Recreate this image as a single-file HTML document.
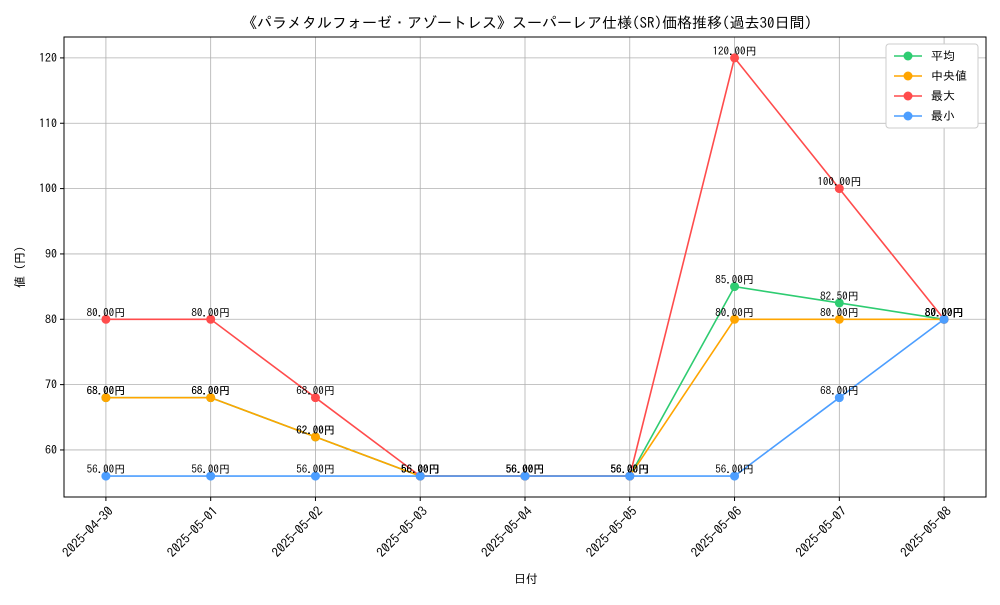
<!DOCTYPE html>
<html><head><meta charset="utf-8"><style>
body{margin:0;background:#fff;}
svg text{font-family:"IPAGothic","Liberation Sans","Noto Sans CJK JP",sans-serif;fill:#000;}
</style></head><body>
<svg id="chart" width="1000" height="600" xmlns="http://www.w3.org/2000/svg">
<text x="527" y="28" font-size="15" text-anchor="middle">《パラメタルフォーゼ・アゾートレス》スーパーレア仕様(SR)価格推移(過去30日間)</text>
<g id="grid"></g><g id="axes"></g><g id="series"></g><g id="labels"></g>
<text x="526" y="583" font-size="12" text-anchor="middle">日付</text>
<text transform="translate(24,267) rotate(-90)" font-size="12" text-anchor="middle">値 (円)</text>
<g id="legend"></g>
</svg>
<script>
const categories=["2025-04-30","2025-05-01","2025-05-02","2025-05-03","2025-05-04","2025-05-05","2025-05-06","2025-05-07","2025-05-08"];
const avgValues=[68,68,62,56,56,56,85,82.5,80];
const medianValues=[68,68,62,56,56,56,80,80,80];
const maxValues=[80,80,68,56,56,56,120,100,80];
const minValues=[56,56,56,56,56,56,56,68,80];
const yTicks=[60,70,80,90,100,110,120];
const seriesNames=["平均","中央値","最大","最小"];
const NS="http://www.w3.org/2000/svg";
const L=64,R=986,T=37,B=497,yMin=52.8,yMax=123.2;
const X=i=>L+(i+0.4)/(categories.length-1+0.8)*(R-L);
const Y=v=>B-(v-yMin)/(yMax-yMin)*(B-T);
function mk(p,t,a){const e=document.createElementNS(NS,t);for(const k in a)e.setAttribute(k,a[k]);document.getElementById(p).appendChild(e);return e;}
categories.forEach((c,i)=>{
 const g=mk("grid","line",{x1:X(i),x2:X(i),y1:T,y2:B,stroke:"#b0b0b0","stroke-width":0.8});
 
 
 const t=mk("axes","text",{transform:`translate(${X(i)+8},${B+15}) rotate(-45)`,"font-size":13,"text-anchor":"end"});
 t.textContent=c;
 
 
 mk("axes","line",{x1:X(i),x2:X(i),y1:B,y2:B+4,stroke:"#000"});
});
yTicks.forEach(v=>{
 const g=mk("grid","line",{x1:L,x2:R,y1:Y(v),y2:Y(v),stroke:"#b0b0b0","stroke-width":0.8});
 
 
 const t=mk("axes","text",{x:L-7,y:Y(v)+4,"font-size":12,"text-anchor":"end"});
 t.textContent=v;
 
 
 mk("axes","line",{x1:L-4,x2:L,y1:Y(v),y2:Y(v),stroke:"#000"});
});
const frame=mk("axes","rect",{x:L,y:T,width:R-L,height:B-T,fill:"none",stroke:"#000","stroke-width":1});


const all=[avgValues,medianValues,maxValues,minValues];
const colors=["#2ecc71","#ffa500","#ff4c4c","#4c9eff"];
const keys=["avg","median","max","min"];
all.forEach((vals,s)=>{
 const pl=mk("series","polyline",{points:vals.map((v,i)=>X(i)+","+Y(v)).join(" "),fill:"none",stroke:colors[s],"stroke-width":1.6});
 
 
 vals.forEach((v,i)=>{
  const c=mk("series","circle",{cx:X(i),cy:Y(v),r:4.5,fill:colors[s]});
  
  
  const t=mk("labels","text",{x:X(i),y:Y(v)-3,"font-size":11,"text-anchor":"middle"});
  t.textContent=v.toFixed(2)+"円";
  
  
 });
});
const lb=mk("legend","rect",{x:886,y:44,width:92,height:84,fill:"#fff",stroke:"#ccc",rx:3});


seriesNames.forEach((n,s)=>{
 const y=56+s*20;
 const l=mk("legend","line",{x1:894,x2:922,y1:y,y2:y,stroke:colors[s],"stroke-width":1.6});
 
 
 mk("legend","circle",{cx:908,cy:y,r:4.5,fill:colors[s]});
 const t=mk("legend","text",{x:931,y:y+4,"font-size":12});
 t.textContent=(s==1?" ":"")+n;
 
 
});
</script>
</body></html>
